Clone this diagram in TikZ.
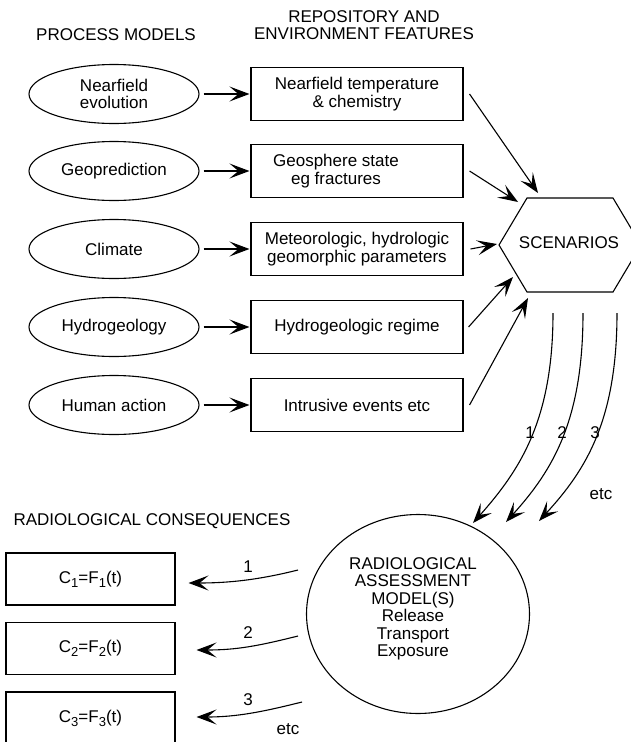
\documentclass[tikz,border=0pt]{standalone}
\usepackage{fontspec}
\setmainfont{Liberation Sans}
\usetikzlibrary{arrows.meta,shapes.geometric}
\newcommand{\lowidx}[1]{\raisebox{-4pt}{\fontsize{13}{13}\selectfont #1}}
\begin{document}
\begin{tikzpicture}[x=1pt,y=-1pt,
  every node/.style={font=\fontsize{17}{17.5}\selectfont, align=center, inner sep=0pt},
  proc/.style={draw, ellipse, line width=1.1pt, minimum width=170pt, minimum height=59pt},
  feat/.style={draw, line width=1.1pt, minimum width=212pt, minimum height=53pt},
  cons/.style={draw, line width=1.1pt, minimum width=169pt, minimum height=52pt},
  model/.style={draw, ellipse, line width=1.1pt, minimum width=223pt, minimum height=199pt},
  arr/.style={line width=1.1pt, -{Stealth[length=20pt,width=15pt,inset=9pt]}},
]
\useasboundingbox (0,0) rectangle (631,742);
\clip (0,0) rectangle (631,742);

% column headings
\node (hdpm) at (116,35) {PROCESS MODELS};
\node (hdrf) at (364,25) {REPOSITORY AND\\ENVIRONMENT FEATURES};

% process models
\node[proc] (e1) at (114,94)  {Nearfield\\evolution};
\node[proc] (e2) at (114,171) {Geoprediction};
\node[proc] (e3) at (114,249) {Climate};
\node[proc] (e4) at (114,327) {Hydrogeology};
\node[proc] (e5) at (114,405) {Human action};

% repository and environment features
\node[feat] (r1) at (357,94)  {Nearfield temperature\\\& chemistry};
\node[feat] (r2) at (357,171) {};
\node (r2t) at (336,171) {Geosphere state\\eg fractures};
\node[feat] (r3) at (357,249) {Meteorologic, hydrologic\\geomorphic parameters};
\node[feat] (r4) at (357,327) {Hydrogeologic regime};
\node[feat] (r5) at (357,405) {Intrusive events etc};

\foreach \i in {1,...,5}
  \draw[arr, shorten <=4pt, shorten >=1pt] (e\i) -- (r\i);

% scenarios hexagon
\coordinate (hl)  at (499,245);
\coordinate (htl) at (527,198);
\coordinate (htr) at (613,198);
\coordinate (hr)  at (641,245);
\coordinate (hbr) at (613,292);
\coordinate (hbl) at (527,292);
\draw[line width=1.1pt] (hl) -- (htl) -- (htr) -- (hr) -- (hbr) -- (hbl) -- cycle;
\node (scen) at (569,243) {SCENARIOS};

\coordinate (t1) at (538,193);
\coordinate (t2) at (518,202);
\coordinate (t3) at (497,244);
\coordinate (t4) at (513,277);
\coordinate (t5) at (528,298);
\draw[arr] ([xshift=6pt]r1.east) -- (t1);
\draw[arr] ([xshift=6pt]r2.east) -- (t2);
\draw[arr] ([xshift=7pt]r3.east) -- (t3);
\draw[arr] ([xshift=5pt]r4.east) -- (t4);
\draw[arr] ([xshift=6pt]r5.east) -- (t5);

% scenarios to assessment model
\coordinate (s1) at (553,313);
\coordinate (s2) at (583,313);
\coordinate (s3) at (617,313);
\coordinate (u1) at (473,523);
\coordinate (u2) at (506,522);
\coordinate (u3) at (539,521);
\draw[arr] (s1) .. controls (553,420) and (520,470) .. (u1);
\draw[arr] (s2) .. controls (583,420) and (553,470) .. (u2);
\draw[arr] (s3) .. controls (617,420) and (586,470) .. (u3);
\node (n1) at (530,433) {1};
\node (n2) at (562,433) {2};
\node (n3) at (595,433) {3};
\node (etc1) at (601,494) {etc};

% assessment model
\node[model] (ram) at (418,614) {};
\node (ramt) at (413,609)
  {RADIOLOGICAL\\ASSESSMENT\\MODEL(S)\\Release\\Transport\\Exposure};

% radiological consequences
\node (hdrc) at (152,521) {RADIOLOGICAL CONSEQUENCES};
\node[cons] (c1) at (90.5,579)   {C\lowidx{1}=F\lowidx{1}(t)};
\node[cons] (c2) at (90.5,648.5) {C\lowidx{2}=F\lowidx{2}(t)};
\node[cons] (c3) at (90.5,718)   {C\lowidx{3}=F\lowidx{3}(t)};

\coordinate (b1) at (298,570);
\coordinate (b2) at (298,636);
\coordinate (b3) at (302,702);
\draw[arr] (b1) .. controls +(-40,10) and +(40,0) .. ([xshift=13pt,yshift=-4pt]c1.east);
\draw[arr] (b2) .. controls +(-40,10) and +(40,0) .. ([xshift=21pt,yshift=-1.5pt]c2.east);
\draw[arr] (b3) .. controls +(-40,10) and +(40,0) .. ([xshift=21pt,yshift=1pt]c3.east);
\node (m1) at (248,567) {1};
\node (m2) at (248,633) {2};
\node (m3) at (248,700) {3};
\node (etc2) at (288,729) {etc};
\end{tikzpicture}
\end{document}
